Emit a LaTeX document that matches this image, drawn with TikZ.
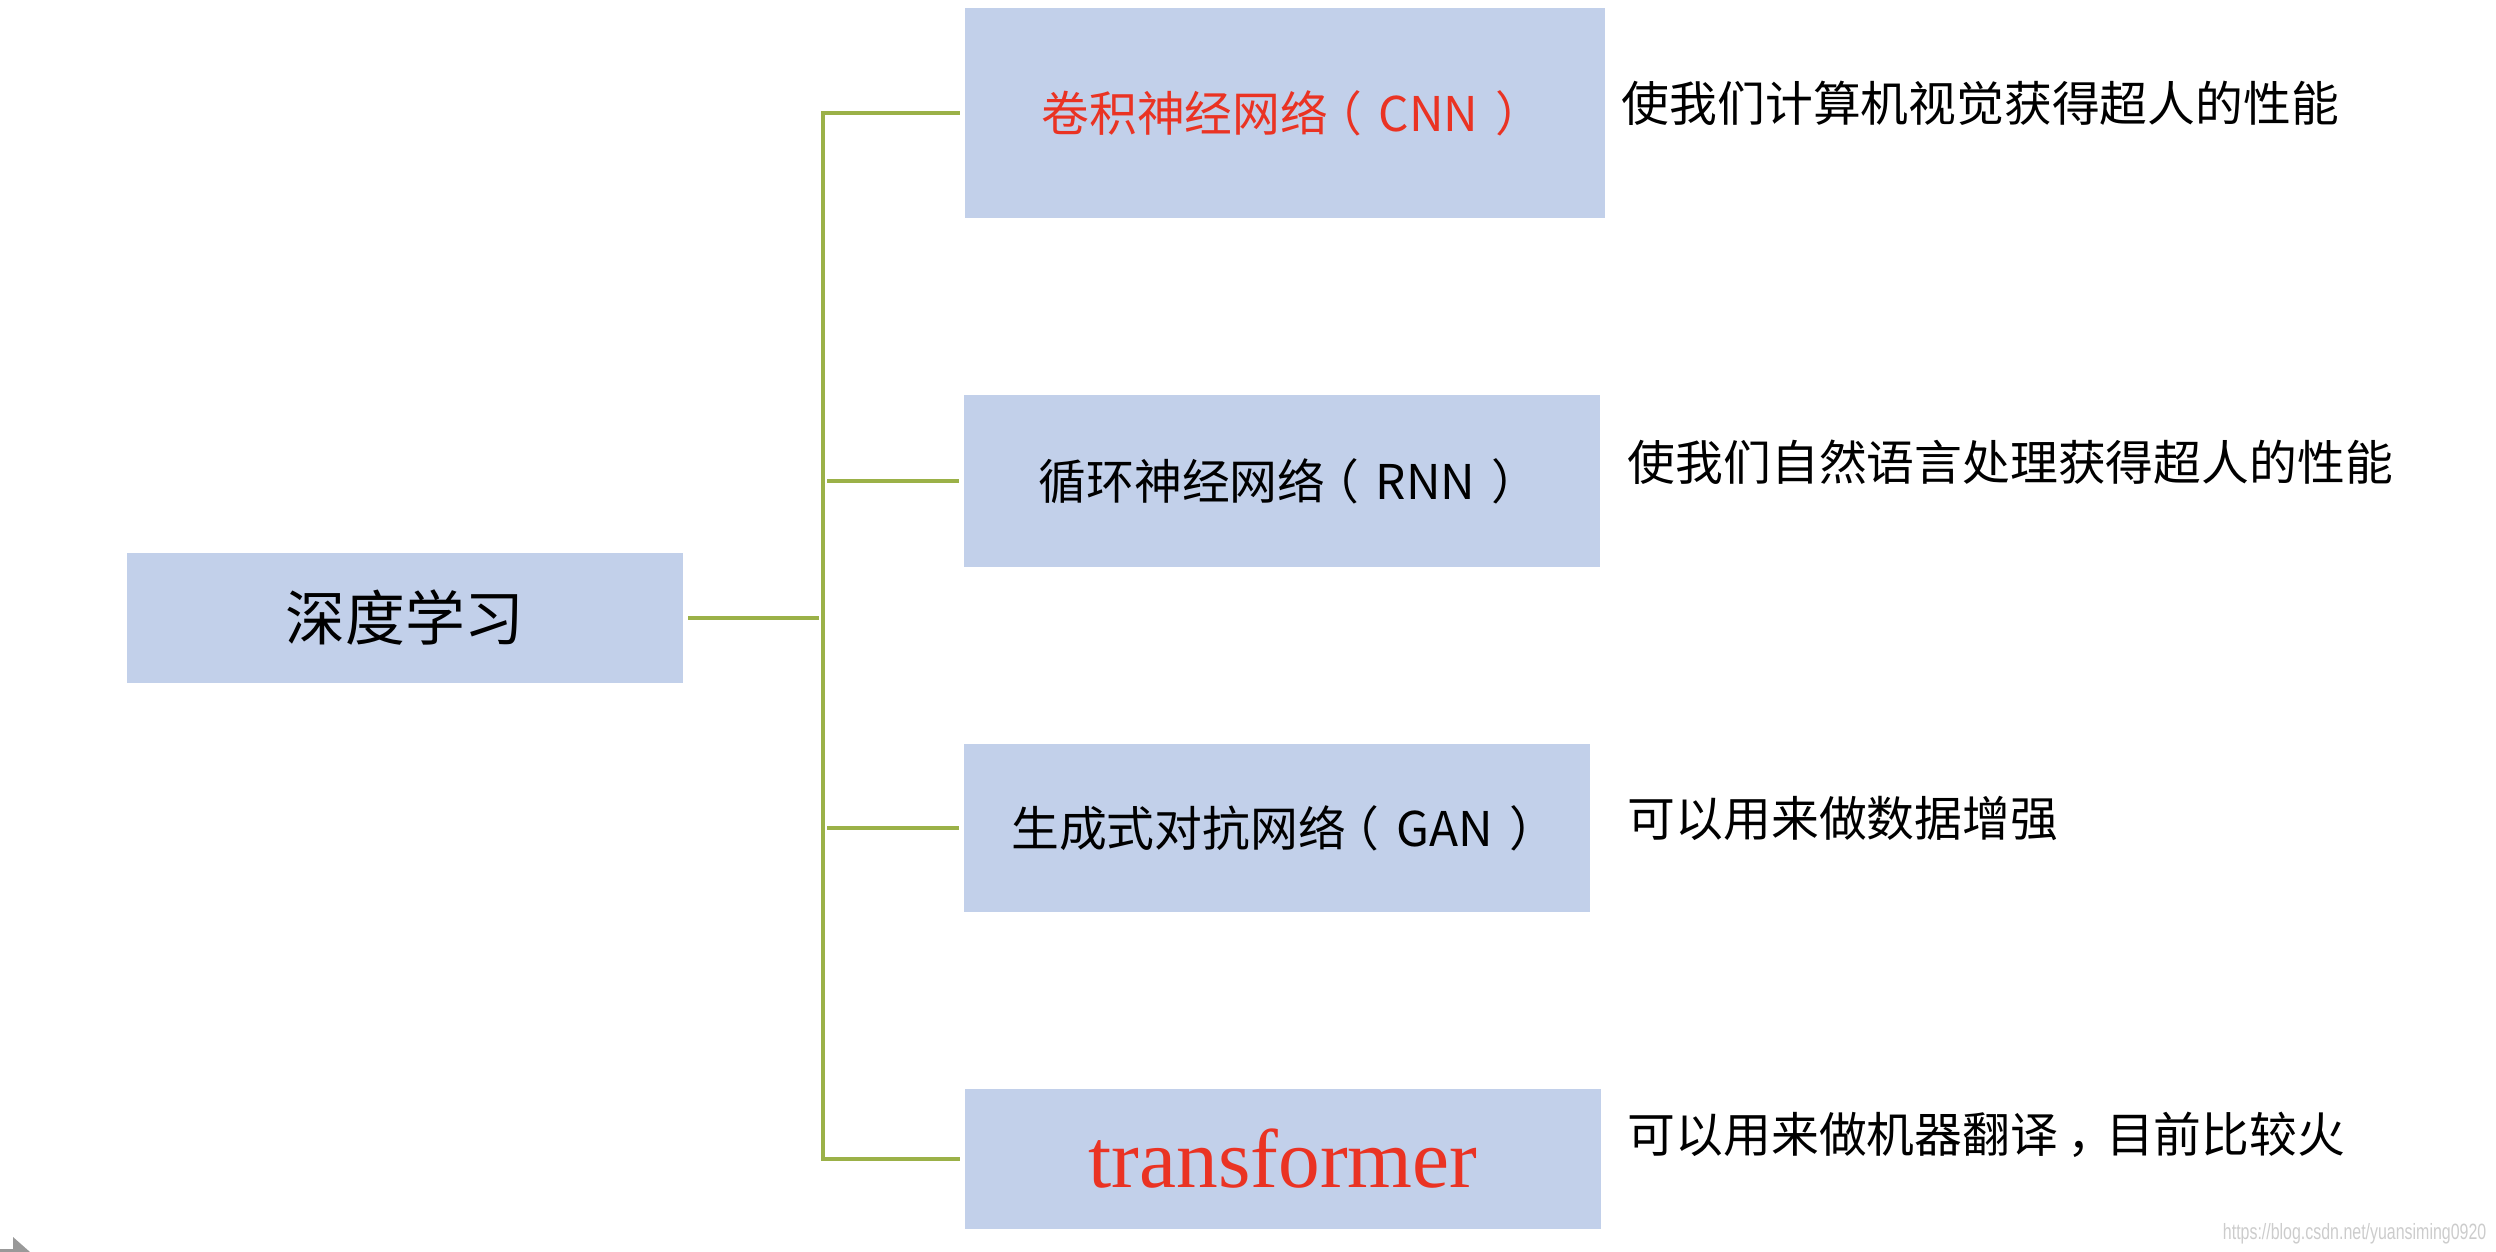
\documentclass[tikz,border=0pt]{standalone}
\usepackage{fontspec}
\newfontfamily\cjk{Noto Sans CJK SC}
\newfontfamily\tfserif{Liberation Serif}
\newfontfamily\wmfont{Liberation Sans}
\usetikzlibrary{positioning, calc}
\definecolor{boxblue}{RGB}{194,208,234}
\definecolor{linkgreen}{RGB}{155,177,72}
\definecolor{hotred}{RGB}{234,51,35}
\newcommand{\lp}{\kern-0.3em（\kern0.35em}
\newcommand{\rp}{\kern0.35em）\kern-0.3em}
\tikzset{
  box/.style  = {rectangle, fill=boxblue, inner sep=0pt, align=center,
                 font=\cjk\fontsize{13.6}{16}\selectfont},
  note/.style = {anchor=west, inner sep=0pt,
                 font=\cjk\fontsize{13.6}{16}\selectfont},
  link/.style = {draw=linkgreen, line width=0.9pt, shorten <=1.2pt, shorten >=1.2pt}
}

\begin{document}
\begin{tikzpicture}[x=0.01cm, y=-0.01cm]

  \useasboundingbox (0,0) rectangle (2496,1252);

  % ── root ──────────────────────────────────────────────────────────────────
  \node[box, minimum width=5.56cm, minimum height=1.29cm,
        font=\cjk\fontsize{17}{20}\selectfont] (root) at (405,618) {深度学习};

  % ── branches ──────────────────────────────────────────────────────────────
  \node[box, minimum width=6.40cm, minimum height=2.10cm, text=hotred]
        (cnn) at (1285,113) {卷积神经网络\lp CNN\rp};
  \node[box, minimum width=6.35cm, minimum height=1.71cm]
        (rnn) at (1282,481) {循环神经网络\lp RNN\rp};
  \node[box, minimum width=6.25cm, minimum height=1.67cm]
        (gan) at (1277,828) {生成式对抗网络\lp GAN\rp};
  \node[box, minimum width=6.36cm, minimum height=1.39cm, text=hotred,
        font=\tfserif\fontsize{23.7}{26}\selectfont]
        (tf) at (1283,1159) {transformer};

  % ── notes ─────────────────────────────────────────────────────────────────
  \node[note] (cnnnote) at (1621,103)  {使我们计算机视觉获得超人的性能};
  \node[note] (rnnnote) at (1627,462)  {使我们自然语言处理获得超人的性能};
  \node[note] (gannote) at (1627,818)  {可以用来做数据增强};
  \node[note] (tfnote)  at (1627,1135) {可以用来做机器翻译\kern0.2em，\kern-0.2em 目前比较火};

  % ── connections ───────────────────────────────────────────────────────────
  \coordinate (trunk) at (823,618);
  \draw[link] (root.east) -- (trunk);
  \draw[link] (cnn.west) -| (trunk) |- (tf.west);
  \draw[link] (trunk |- rnn.west) -- (rnn.west);
  \draw[link] (trunk |- gan.west) -- (gan.west);

  % watermark and corner mark
  \node[anchor=east, inner sep=0pt, text=black!20,
        font=\wmfont\fontsize{6.3}{7}\selectfont] (wm) at (2487,1234)
        {\scalebox{0.72}[1]{https://blog.csdn.net/yuansiming0920}};
  \fill[black!40] (0,1249) -- (13,1249) -- (13,1237) -- (30,1252) -- (0,1252) -- cycle;

\end{tikzpicture}
\end{document}
